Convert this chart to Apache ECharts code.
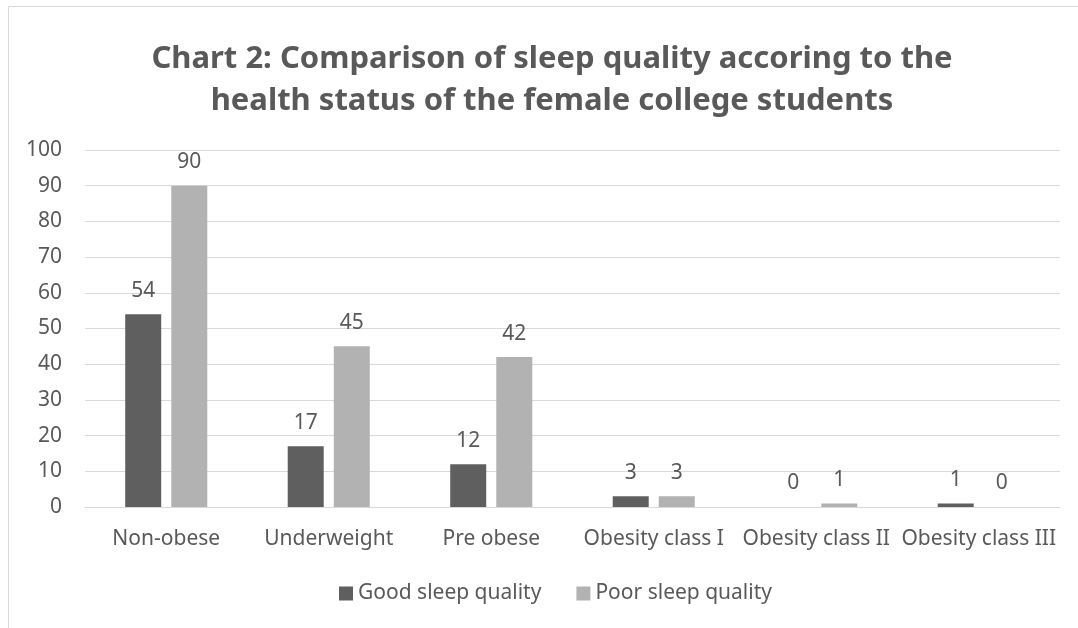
<!DOCTYPE html>
<html>
<head>
<meta charset="utf-8">
<script src="https://cdn.jsdelivr.net/npm/echarts@6/dist/echarts.min.js"></script>
<style>
html,body{margin:0;padding:0;background:#fff;}
#c{width:1078px;height:628px;}
</style>
</head>
<body>
<div id="c"></div>
<script>
var categories = ['Non-obese', 'Underweight', 'Pre obese', 'Obesity class I', 'Obesity class II', 'Obesity class III'];
var goodSleep = [54, 17, 12, 3, 0, 1];
var poorSleep = [90, 45, 42, 3, 1, 0];
var seriesNames = ['Good sleep quality', 'Poor sleep quality'];
var titleText = 'Chart 2: Comparison of sleep quality accoring to the\nhealth status of the female college students';

var txt = '#595959';
var font = '"Noto Sans", sans-serif';
var fs = 21;
var chart = echarts.init(document.getElementById('c'));
var labelCfg = {show: true, position: 'top', distance: 13, color: txt, fontSize: fs, fontFamily: font};
chart.setOption({
  animation: false,
  graphic: [{
    type: 'rect', shape: {x: 8.5, y: 6.5, width: 1200, height: 800},
    style: {fill: 'none', stroke: '#d9d9d9', lineWidth: 1}, silent: true
  }],
  title: {
    text: titleText, left: 547, textAlign: 'center', top: 33,
    textStyle: {color: txt, fontSize: 31, fontWeight: 'bold', fontFamily: font, lineHeight: 42}
  },
  legend: {
    data: seriesNames, top: 578, left: 334, itemWidth: 14, itemHeight: 14, itemGap: 35,
    icon: 'rect',
    textStyle: {color: txt, fontSize: fs, fontFamily: font}
  },
  grid: {left: 85, right: 18, top: 150, bottom: 121},
  xAxis: {
    type: 'category', data: categories,
    axisLine: {lineStyle: {color: '#d9d9d9', width: 1}},
    axisTick: {show: false},
    axisLabel: {color: txt, fontSize: fs, fontFamily: font, margin: 22, interval: 0}
  },
  yAxis: {
    type: 'value', min: 0, max: 100, interval: 10,
    axisLine: {show: false}, axisTick: {show: false},
    splitLine: {lineStyle: {color: '#d9d9d9', width: 1}},
    axisLabel: {color: txt, fontSize: fs, fontFamily: font, margin: 23}
  },
  series: [
    {name: seriesNames[0], type: 'bar', data: goodSleep, itemStyle: {color: '#5f5f5f'},
     barGap: '28%', barCategoryGap: '49.5%', label: labelCfg},
    {name: seriesNames[1], type: 'bar', data: poorSleep, itemStyle: {color: '#b2b2b2'},
     barGap: '28%', barCategoryGap: '49.5%', label: labelCfg}
  ]
});
</script>
</body>
</html>
